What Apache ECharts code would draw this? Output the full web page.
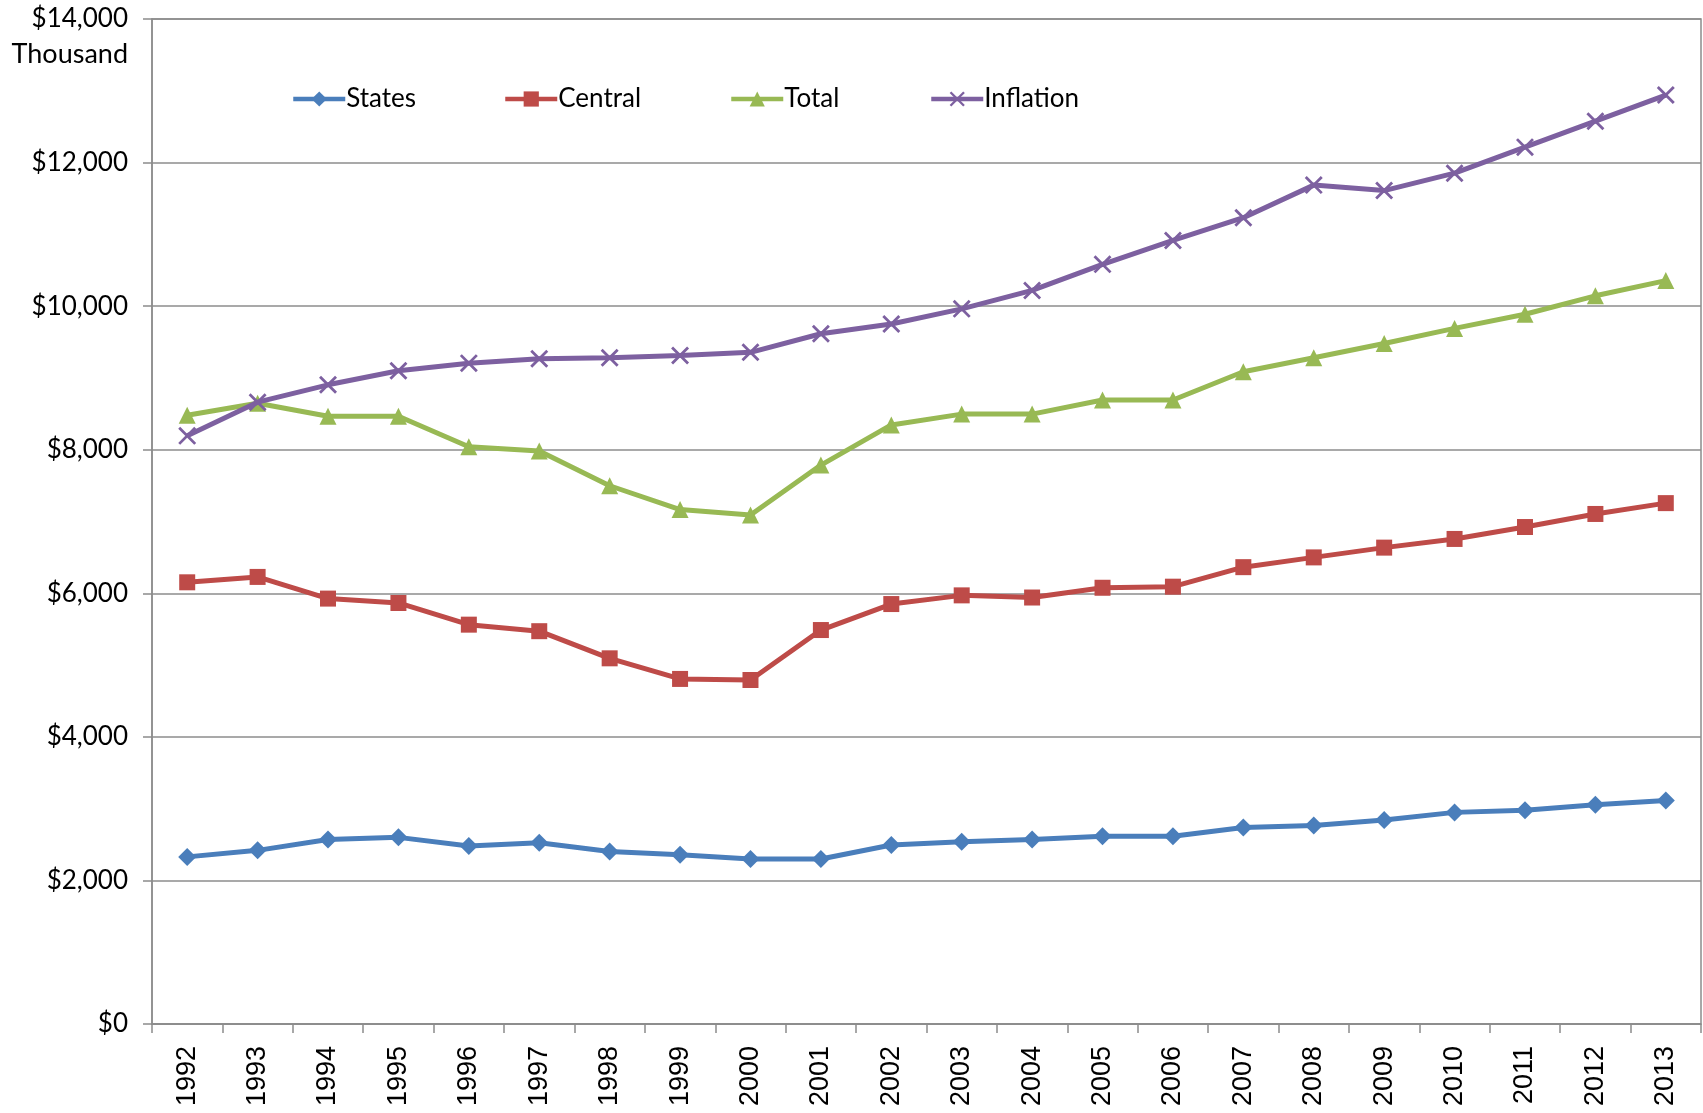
<!DOCTYPE html>
<html>
<head>
<meta charset="utf-8">
<script src="https://cdn.jsdelivr.net/npm/echarts@6/dist/echarts.min.js"></script>
<style>
html,body{margin:0;padding:0;background:#fff;}
#chart{width:1703px;height:1113px;}
</style>
</head>
<body>
<div id="chart"></div>
<script>
const years = ['1992','1993','1994','1995','1996','1997','1998','1999','2000','2001','2002','2003','2004','2005','2006','2007','2008','2009','2010','2011','2012','2013'];
const states = [2328,2419,2570,2600,2479,2525,2404,2358,2298,2298,2494,2540,2570,2615,2615,2736,2766,2842,2948,2978,3054,3114];
const central = [6153,6228,5926,5865,5563,5472,5094,4807,4792,5488,5850,5971,5941,6077,6092,6364,6500,6636,6757,6923,7105,7256];
const total = [8481,8647,8466,8466,8042,7982,7498,7166,7090,7786,8345,8496,8496,8693,8693,9086,9282,9479,9690,9887,10144,10356];
const inflation = [8193,8662,8904,9101,9206,9267,9282,9312,9357,9615,9751,9962,10219,10582,10915,11232,11686,11610,11852,12215,12577,12940];
const seriesNames = ['States','Central','Total','Inflation'];
const yTicks = {min:0, max:14000, interval:2000};

const colors = ['#4A7EBB','#BE4B48','#98B954','#7D60A0'];
const xPath = 'path://M0,1.1L1.1,0L10,8.9L8.9,10Z M8.9,0L10,1.1L1.1,10L0,8.9Z';
const symbols = ['diamond','rect','triangle',xPath];
const symSizes = [18,16,17,18];
const dataArr = [states,central,total,inflation];
const font = 'Lato, "Open Sans", sans-serif';

const chart = echarts.init(document.getElementById('chart'));
const legendLefts = [286,498,724,924];
const option = {
  animation:false,
  backgroundColor:'#fff',
  grid:{left:152,right:2,top:19,bottom:89,show:true,borderColor:'#8c8c8c',borderWidth:1.5,backgroundColor:'transparent'},
  legend: seriesNames.map((n,i)=>({
    data:[n], left:legendLefts[i], top:81, itemWidth:52, itemHeight:19, itemGap:0,
    lineStyle:{width:4.5},
    textStyle:{fontFamily:font, fontSize:26, color:'#000', padding:[0,0,0,-4]}
  })),
  graphic:[{type:'text', right:1703-128, top:41, style:{text:'Thousand', font:'27px '+font, fill:'#000', textAlign:'right'}}],
  xAxis:{
    type:'category', data:years, boundaryGap:true,
    axisLine:{lineStyle:{color:'#8c8c8c',width:1.5}},
    axisTick:{show:true, length:9, inside:false, lineStyle:{color:'#8c8c8c',width:1.5}, alignWithLabel:false},
    axisLabel:{rotate:90, margin:22, fontFamily:'"Liberation Sans", Arial, sans-serif', fontSize:27, color:'#000', interval:0},
    splitLine:{show:false}
  },
  yAxis:{
    type:'value', min:yTicks.min, max:yTicks.max, interval:yTicks.interval,
    axisLine:{show:true, lineStyle:{color:'#8c8c8c',width:1.5}},
    axisTick:{show:true, length:9, lineStyle:{color:'#8c8c8c',width:1.5}},
    axisLabel:{margin:24, fontFamily:font, fontSize:26, color:'#000',
      formatter:v=>'$'+v.toLocaleString('en-US')},
    splitLine:{show:true, lineStyle:{color:'#8c8c8c',width:1.5}}
  },
  series: seriesNames.map((n,i)=>({
    name:n, type:'line', data:dataArr[i], symbol:symbols[i], symbolSize:symSizes[i],
    showSymbol:true, smooth:false,
    lineStyle:{color:colors[i], width:5},
    itemStyle:{color:colors[i]},
    z: 2+i
  }))
};
chart.setOption(option);
</script>
</body>
</html>
